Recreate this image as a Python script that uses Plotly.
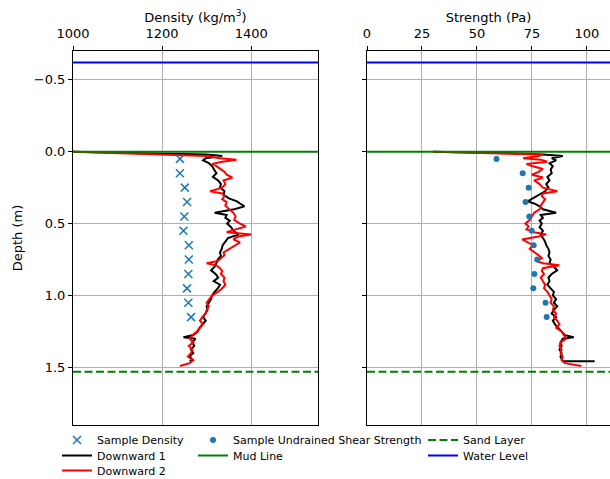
import plotly.graph_objects as go

# ---------------- data ----------------
sample_depth = [0.05, 0.15, 0.25, 0.35, 0.45, 0.55, 0.65, 0.75, 0.85, 0.95, 1.05, 1.15]
sample_density = [1240, 1240, 1251, 1256, 1250, 1248, 1260, 1260, 1259, 1256, 1259, 1265]
sample_strength = [58.9, 70.8, 73.5, 72.1, 73.8, 74.9, 75.8, 77.4, 76.1, 75.6, 81.2, 81.7]

depth1 = [0.000, 0.010, 0.020, 0.030, 0.045, 0.060, 0.080, 0.100, 0.125, 0.150, 0.175, 0.200,
          0.225, 0.250, 0.275, 0.300, 0.325, 0.345, 0.360, 0.380, 0.400, 0.415, 0.425, 0.440,
          0.460, 0.480, 0.500, 0.525, 0.550, 0.575, 0.600, 0.625, 0.650, 0.675, 0.700, 0.725,
          0.750, 0.775, 0.800, 0.825, 0.850, 0.875, 0.900, 0.925, 0.950, 0.975, 1.000, 1.025,
          1.050, 1.075, 1.100, 1.125, 1.150, 1.175, 1.200, 1.225, 1.250, 1.275, 1.290, 1.300,
          1.325, 1.350, 1.375, 1.400, 1.425, 1.445, 1.456, 1.457]
density1 = [1000, 1180, 1300, 1335, 1298, 1292, 1305, 1312, 1318, 1322, 1314, 1326,
            1332, 1330, 1340, 1338, 1350, 1368, 1375, 1385, 1362, 1335, 1318, 1345,
            1342, 1352, 1346, 1355, 1360, 1372, 1348, 1342, 1336, 1334, 1330, 1332,
            1325, 1322, 1318, 1310, 1320, 1326, 1316, 1330, 1325, 1318, 1312, 1310,
            1305, 1300, 1302, 1296, 1292, 1298, 1290, 1284, 1280, 1270, 1248, 1275,
            1268, 1272, 1265, 1270, 1262, 1268, 1262, 1262]
strength1 = [30, 65, 80, 89, 84, 86, 83, 84.5, 83.5, 84, 82, 83,
             81.5, 82.5, 81, 78, 75, 73, 76, 78.5, 80, 84, 86, 79,
             80, 78.5, 79.5, 78.5, 80, 79, 80, 81, 81.5, 82.5, 83, 82.5,
             83.5, 83, 85, 86.5, 84, 82.5, 83, 82, 83.5, 85, 84.5, 86,
             85, 86.5, 85, 84, 86, 84.5, 85.5, 87, 88.5, 90, 94, 89,
             88, 88.5, 87.5, 88.5, 88, 88.5, 89, 103.5]

depth2 = [0.000, 0.012, 0.020, 0.030, 0.045, 0.056, 0.070, 0.085, 0.100, 0.120, 0.140, 0.160,
          0.180, 0.200, 0.225, 0.250, 0.265, 0.275, 0.290, 0.310, 0.330, 0.350, 0.375, 0.400,
          0.425, 0.450, 0.475, 0.500, 0.520, 0.540, 0.560, 0.575, 0.590, 0.610, 0.630, 0.650,
          0.675, 0.700, 0.720, 0.740, 0.760, 0.775, 0.790, 0.810, 0.830, 0.850, 0.875, 0.900,
          0.925, 0.950, 0.975, 1.000, 1.025, 1.050, 1.075, 1.100, 1.125, 1.150, 1.175, 1.200,
          1.225, 1.250, 1.275, 1.300, 1.325, 1.350, 1.375, 1.400, 1.425, 1.450, 1.470, 1.490]
density2 = [1000, 1120, 1180, 1300, 1330, 1367, 1335, 1312, 1322, 1330, 1340, 1345,
            1358, 1338, 1342, 1335, 1320, 1308, 1335, 1340, 1335, 1345, 1342, 1352,
            1360, 1365, 1362, 1375, 1388, 1365, 1345, 1400, 1370, 1360, 1375, 1365,
            1350, 1338, 1340, 1332, 1325, 1300, 1322, 1330, 1335, 1332, 1340, 1338,
            1342, 1335, 1325, 1312, 1305, 1300, 1305, 1300, 1298, 1290, 1285, 1292,
            1285, 1278, 1268, 1262, 1270, 1260, 1268, 1265, 1258, 1270, 1262, 1240]
strength2 = [30, 60, 80, 78, 71, 79, 82, 72.5, 75, 80, 78, 75,
             80, 76, 78.5, 80, 84, 86.5, 80, 79.5, 81, 80, 79, 78.5,
             76, 75, 74, 72, 73.5, 72.5, 76, 81.5, 78, 70.5, 73, 75.5,
             74, 76.5, 78, 79.5, 77, 80, 87.5, 80, 79.5, 80.5, 79, 80,
             81, 80.5, 82, 83, 84, 83.5, 85, 84.5, 86, 85, 86.5, 87.5,
             86, 88.5, 89.5, 90.5, 88, 87.5, 88.5, 88, 89, 88.5, 90, 97.5]

mud_line = 0.0
sand_layer = 1.53
water_level = -0.62

density_range = [1000, 1550]
strength_range = [0, 110.5]
depth_range = [1.9, -0.7]

density_ticks = [1000, 1200, 1400]
strength_ticks = [0, 25, 50, 75, 100]
depth_ticks = [-0.5, 0.0, 0.5, 1.0, 1.5]

BLUE = "#1f77b4"
FONT = "DejaVu Sans"

W, H = 610, 479
L, R, T, B = 73, 0, 51, 54
pw, ph = W - L - R, H - T - B


def px_x(p):
    return (p - L) / pw


def px_y(p):
    return (H - B - p) / ph


# legend slot per entry: (legend id, left pixel, top pixel)
legend_slots = {
    "Sample Density": ("legend", 57, 425.5),
    "Downward 1": ("legend2", 57, 441),
    "Downward 2": ("legend3", 57, 456),
    "Sample Undrained Shear Strength": ("legend4", 193, 425.5),
    "Mud Line": ("legend5", 193, 441),
    "Sand Layer": ("legend6", 423, 425.5),
    "Water Level": ("legend7", 423, 441),
}

fig = go.Figure()

# profiles
for xs, ax, ya in [((density1, density2), "x", "y"), ((strength1, strength2), "x2", "y2")]:
    first = ax == "x"
    fig.add_trace(go.Scatter(x=xs[0], y=depth1, mode="lines", name="Downward 1",
                             line=dict(color="black", width=2), xaxis=ax, yaxis=ya,
                             showlegend=first, legend=legend_slots["Downward 1"][0]))
    fig.add_trace(go.Scatter(x=xs[1], y=depth2, mode="lines", name="Downward 2",
                             line=dict(color="red", width=2), xaxis=ax, yaxis=ya,
                             showlegend=first, legend=legend_slots["Downward 2"][0]))

fig.add_trace(go.Scatter(x=sample_density, y=sample_depth, mode="markers", name="Sample Density",
                         marker=dict(symbol="x-thin", size=8, line=dict(color=BLUE, width=1.5), color=BLUE),
                         xaxis="x", yaxis="y", showlegend=True,
                         legend=legend_slots["Sample Density"][0]))
fig.add_trace(go.Scatter(x=sample_strength, y=sample_depth, mode="markers",
                         name="Sample Undrained Shear Strength",
                         marker=dict(symbol="circle", size=6, color=BLUE),
                         xaxis="x2", yaxis="y2", showlegend=True,
                         legend=legend_slots["Sample Undrained Shear Strength"][0]))

# horizontal reference lines spanning each panel
for rng, ax, ya in [(density_range, "x", "y"), (strength_range, "x2", "y2")]:
    first = ax == "x"
    fig.add_trace(go.Scatter(x=rng, y=[mud_line] * 2, mode="lines", name="Mud Line",
                             line=dict(color="green", width=2), xaxis=ax, yaxis=ya,
                             showlegend=first, legend=legend_slots["Mud Line"][0]))
    fig.add_trace(go.Scatter(x=rng, y=[sand_layer] * 2, mode="lines", name="Sand Layer",
                             line=dict(color="green", width=2, dash="8px,3.5px"), xaxis=ax, yaxis=ya,
                             showlegend=first, legend=legend_slots["Sand Layer"][0]))
    fig.add_trace(go.Scatter(x=rng, y=[water_level] * 2, mode="lines", name="Water Level",
                             line=dict(color="blue", width=2), xaxis=ax, yaxis=ya,
                             showlegend=first, legend=legend_slots["Water Level"][0]))

axis_common = dict(showline=True, linecolor="black", linewidth=1, mirror=True,
                   ticks="outside", ticklen=4, tickcolor="black", automargin=False,
                   showgrid=True, gridcolor="#b0b0b0", gridwidth=1, zeroline=False,
                   tickfont=dict(size=13, color="black", family=FONT))

leg_common = dict(font=dict(size=11, color="black", family=FONT), bgcolor="rgba(0,0,0,0)",
                  orientation="v", xanchor="left", yanchor="top", traceorder="normal",
                  itemwidth=30, tracegroupgap=0, visible=True)

legends = {}
for name, (lid, lx, ly) in legend_slots.items():
    legends[lid] = dict(x=px_x(lx), y=px_y(ly), **leg_common)

fig.update_layout(
    width=W, height=H, margin=dict(l=L, r=R, t=T, b=B, autoexpand=False),
    plot_bgcolor="white", paper_bgcolor="white", showlegend=True,
    font=dict(family=FONT, size=13, color="black"),
    xaxis=dict(domain=[0, px_x(318)], range=density_range, side="top", tickvals=density_ticks,
               ticklabelstandoff=3,
               title=dict(text="Density (kg/m<sup>3</sup>)", font=dict(size=13), standoff=0),
               anchor="y", **axis_common),
    xaxis2=dict(domain=[px_x(367), 1], range=strength_range, side="top", tickvals=strength_ticks,
                ticklabelstandoff=3,
                title=dict(text="Strength (Pa)", font=dict(size=13), standoff=0),
                anchor="y2", **axis_common),
    yaxis=dict(domain=[0, 1], range=depth_range, tickvals=depth_ticks, tickformat=".1f",
               title=dict(text="Depth (m)", font=dict(size=13), standoff=8), anchor="x", **axis_common),
    yaxis2=dict(domain=[0, 1], range=depth_range, tickvals=depth_ticks, matches="y",
                showticklabels=False, anchor="x2", **axis_common),
    **legends,
)

fig.write_html("out.html", config={"displayModeBar": False},
               post_script="document.body.style.margin='0';document.body.style.overflow='hidden';")
